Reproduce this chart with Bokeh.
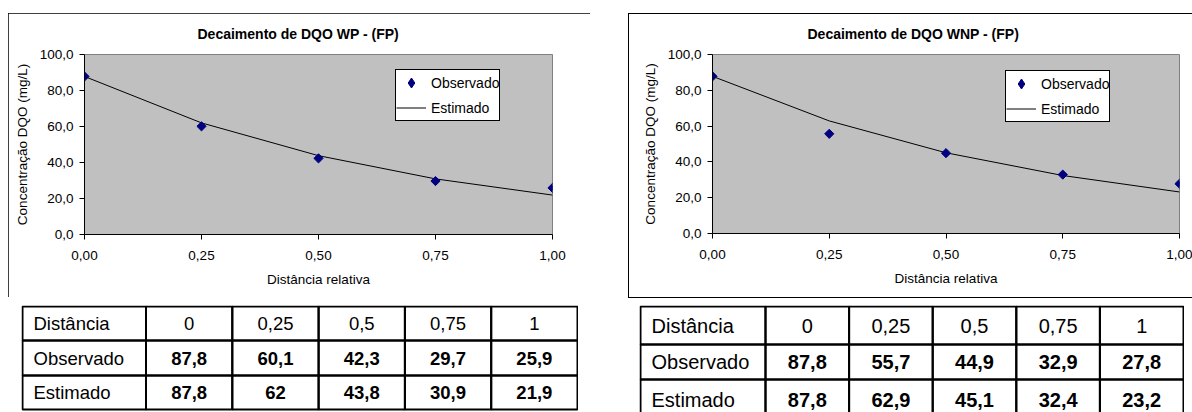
import math
from bokeh.plotting import figure
from bokeh.layouts import row, column, Spacer
from bokeh.models import (Range1d, FixedTicker, CustomJSTickFormatter, Legend,
                          LegendItem, Title)
from bokeh.core.properties import value
from bokeh.embed import file_html
from bokeh.resources import INLINE

# ---------------- data ----------------
distance = [0, 0.25, 0.5, 0.75, 1.0]
distance_labels = ["0", "0,25", "0,5", "0,75", "1"]
wp_observed = [87.8, 60.1, 42.3, 29.7, 25.9]
wp_estimated = [87.8, 62.0, 43.8, 30.9, 21.9]
wnp_observed = [87.8, 55.7, 44.9, 32.9, 27.8]
wnp_estimated = [87.8, 62.9, 45.1, 32.4, 23.2]
row_labels = ["Distância", "Observado", "Estimado"]
y_ticks = [0, 20, 40, 60, 80, 100]
x_ticks = [0, 0.25, 0.5, 0.75, 1.0]
title_wp = "Decaimento de DQO WP - (FP)"
title_wnp = "Decaimento de DQO WNP - (FP)"
x_title = "Distância relativa"
y_title = "Concentração DQO (mg/L)"
series_names = ["Observado", "Estimado"]

FONT = "Liberation Sans"
NAVY = "#000080"


def fmt_value(v):
    s = f"{v:.1f}"
    if s.endswith(".0"):
        s = s[:-2]
    return s.replace(".", ",")


def make_chart(title, obs, est, width, height, borders, title_offset, legend_loc, frame_css):
    left, right, top, bottom = borders
    p = figure(width=width, height=height, x_range=Range1d(0, 1), y_range=Range1d(0, 100),
               output_backend="svg", toolbar_location=None,
               min_border_left=left, min_border_right=right,
               min_border_top=top, min_border_bottom=bottom)
    p.title = Title(text=title, align="left", offset=title_offset, standoff=23,
                    vertical_align="middle",
                    text_font=FONT, text_font_size="14px", text_font_style="bold",
                    text_color="#000000")
    p.background_fill_color = "#c0c0c0"
    p.outline_line_color = "#808080"
    p.outline_line_width = 1
    p.xgrid.visible = False
    p.ygrid.visible = False
    if frame_css == "outline":
        p.border_fill_color = "#ffffff"
        p.styles = {"outline": "1px solid #000000", "outline-offset": "-1px"}
    else:
        p.border_fill_color = None
        p.styles = {"background-color": "#ffffff",
                    "box-shadow": "inset 1px 1px 0 0 #000000, inset 0 -1px 0 0 #000000"}

    for ax in (p.xaxis[0], p.yaxis[0]):
        ax.axis_line_color = "#000000"
        ax.major_tick_line_color = "#000000"
        ax.major_tick_out = 5
        ax.major_tick_in = 0
        ax.minor_tick_line_color = None
        ax.major_label_text_font = FONT
        ax.major_label_text_font_size = "13.5px"
        ax.major_label_text_color = "#000000"
        ax.axis_label_text_font = FONT
        ax.axis_label_text_font_size = "13.5px"
        ax.axis_label_text_font_style = "normal"
        ax.axis_label_text_color = "#000000"

    p.xaxis.ticker = FixedTicker(ticks=x_ticks)
    p.yaxis.ticker = FixedTicker(ticks=y_ticks)
    p.xaxis.formatter = CustomJSTickFormatter(code="return tick.toFixed(2).replace('.', ',')")
    p.yaxis.formatter = CustomJSTickFormatter(code="return tick.toFixed(1).replace('.', ',')")
    p.xaxis.axis_label = x_title
    p.yaxis.axis_label = y_title
    p.xaxis.major_label_standoff = 11
    p.xaxis.axis_label_standoff = 9
    p.yaxis.major_label_standoff = 6
    p.yaxis.axis_label_standoff = 7

    ln = p.line(distance, est, line_color="#000000", line_width=1)
    # small diamonds hidden under the main markers: they give the legend its diamond key
    key = p.scatter(distance, obs, marker="diamond", size=4,
                    fill_color=NAVY, line_color=NAVY)
    p.scatter(distance, obs, marker="square", angle=math.pi / 4, size=6.5,
              fill_color=NAVY, line_color=NAVY)

    legend = Legend(items=[LegendItem(label=series_names[0], renderers=[key]),
                           LegendItem(label=series_names[1], renderers=[ln])],
                    location=legend_loc,
                    border_line_color="#000000", border_line_width=1, border_line_alpha=1.0,
                    background_fill_color="#ffffff", background_fill_alpha=1.0,
                    label_text_font=FONT, label_text_font_size="14px",
                    label_text_color="#000000",
                    glyph_width=30, glyph_height=25, label_height=25,
                    label_standoff=5, padding=0, spacing=-6, margin=0)
    p.add_layout(legend)
    return p


def make_table(obs, est, width, height, first_col, row_heights, font_size):
    tw = width - 2
    p = figure(width=width, height=height, x_range=Range1d(-1, width - 1),
               y_range=Range1d(height - 1, -1), output_backend="svg",
               toolbar_location=None, x_axis_location=None, y_axis_location=None,
               min_border=0)
    p.outline_line_color = None
    p.xgrid.visible = False
    p.ygrid.visible = False
    p.background_fill_color = "#ffffff"
    p.border_fill_color = "#ffffff"

    ncols = len(distance_labels)
    cw = (tw - first_col) / ncols
    xs = [0, first_col] + [first_col + cw * (i + 1) for i in range(ncols)]
    ys = [0]
    for h in row_heights:
        ys.append(ys[-1] + h)

    L, R, T, B = [], [], [], []
    for r in range(3):
        for c in range(ncols + 1):
            L.append(xs[c]); R.append(xs[c + 1]); T.append(ys[r]); B.append(ys[r + 1])
    p.quad(left=L, right=R, top=T, bottom=B, fill_color=None,
           line_color="#000000", line_width=2)

    cy = [(ys[r] + ys[r + 1]) / 2 for r in range(3)]
    p.text(x=[11] * 3, y=cy, text=row_labels, text_font=value(FONT),
           text_font_size=font_size, text_align="left", text_baseline="middle",
           text_color="#000000")
    cx = [(xs[c + 1] + xs[c + 2]) / 2 for c in range(ncols)]
    p.text(x=cx, y=[cy[0]] * ncols, text=distance_labels, text_font=value(FONT),
           text_font_size=font_size, text_align="center", text_baseline="middle",
           text_color="#000000")
    vals = [fmt_value(v) for v in obs] + [fmt_value(v) for v in est]
    p.text(x=cx + cx, y=[cy[1]] * ncols + [cy[2]] * ncols, text=vals,
           text_font=value(FONT), text_font_size=font_size, text_font_style="bold",
           text_align="center", text_baseline="middle", text_color="#000000")
    return p


chart_a = make_chart(title_wp, wp_observed, wp_estimated, 582, 284, (76, 38, 41, 63),
                     113, (311, 113), "outline")
chart_b = make_chart(title_wnp, wnp_observed, wnp_estimated, 564, 285, (84, 13, 41, 65),
                     95, (293, 111), "shadow")
table_a = make_table(wp_observed, wp_estimated, 557, 107, 123.5, [34, 35, 34], "18.5px")
table_b = make_table(wnp_observed, wnp_estimated, 545, 107, 125, [38, 35, 40], "20px")

left_col = column(Spacer(width=582, height=13), chart_a, Spacer(width=582, height=8),
                  row(Spacer(width=13, height=107), table_a))
right_col = column(Spacer(width=564, height=13), chart_b, Spacer(width=564, height=7),
                   row(Spacer(width=11, height=107), table_b))
layout = row(Spacer(width=8, height=412), left_col, Spacer(width=38, height=412), right_col)

open("out.html", "w").write(file_html(layout, INLINE))
